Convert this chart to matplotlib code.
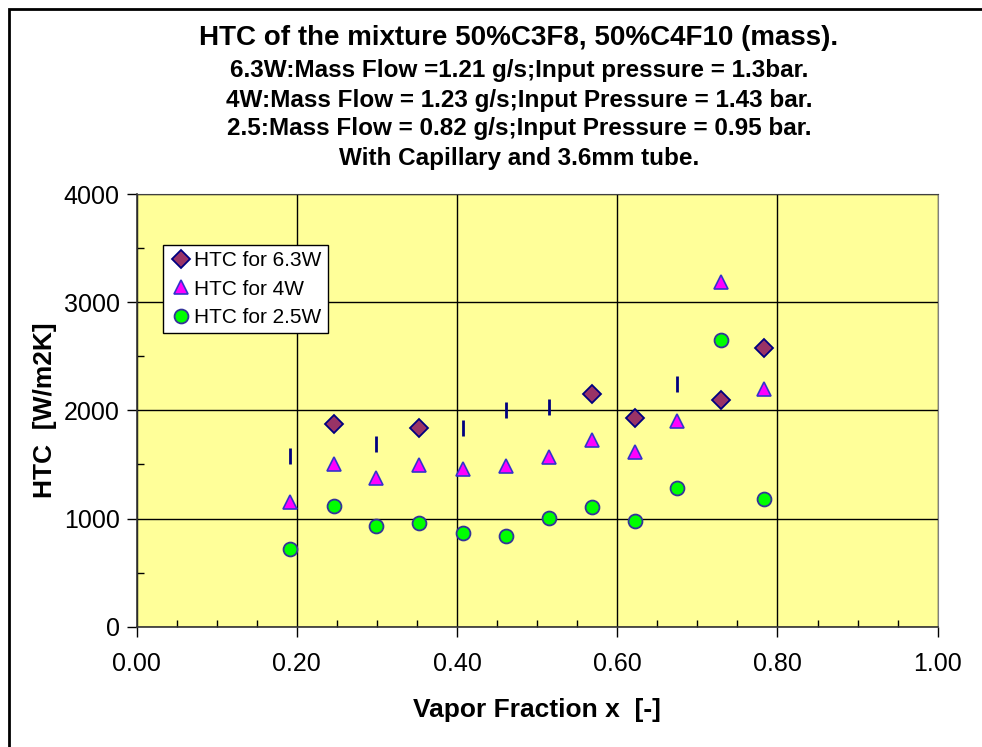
import matplotlib
matplotlib.use('Agg')
import matplotlib.pyplot as plt
from matplotlib.patches import Rectangle
from matplotlib.ticker import MultipleLocator, FormatStrFormatter

plt.rcParams['font.family'] = ['Liberation Sans', 'DejaVu Sans']

# vapor fraction positions of the measurements
x_vals = [0.192, 0.246, 0.299, 0.353, 0.407, 0.461, 0.515, 0.568, 0.622, 0.675, 0.729, 0.783]

# HTC for 6.3W (diamonds)
x_63 = [0.246, 0.353, 0.568, 0.622, 0.729, 0.783]
htc_63 = [1877, 1840, 2148, 1932, 2093, 2577]

# extra 6.3W points drawn as short dashes
x_dash = [0.192, 0.299, 0.407, 0.461, 0.515, 0.675]
htc_dash = [1574, 1685, 1840, 2006, 2031, 2247]

# HTC for 4W (triangles)
htc_4 = [1151, 1506, 1377, 1491, 1454, 1484, 1568, 1722, 1614, 1901, 3188, 2194]

# HTC for 2.5W (circles)
htc_25 = [719, 1120, 929, 960, 870, 840, 1003, 1105, 981, 1284, 2648, 1176]

title_lines = [
    'HTC of the mixture 50%C3F8, 50%C4F10 (mass).',
    '6.3W:Mass Flow =1.21 g/s;Input pressure = 1.3bar.',
    '4W:Mass Flow = 1.23 g/s;Input Pressure = 1.43 bar.',
    '2.5:Mass Flow = 0.82 g/s;Input Pressure = 0.95 bar.',
    'With Capillary and 3.6mm tube.',
]

W, H = 982, 747
fig = plt.figure(figsize=(W / 100, H / 100), dpi=100)
fig.patch.set_facecolor('white')

# outer chart frame (cut at right/bottom edges)
fig.patches.append(Rectangle((9 / W, -0.05), 1.1, 1 - 9 / H + 0.05, transform=fig.transFigure,
                             fill=False, edgecolor='black', linewidth=2))

left, right, top, bottom = 136.5, 937.7, 194, 626.7
ax = fig.add_axes([left / W, (H - bottom) / H, (right - left) / W, (bottom - top) / H])
ax.set_facecolor('#FFFF99')

ax.plot(x_63, htc_63, linestyle='none', marker='D', markersize=9, markerfacecolor='#993366',
        markeredgecolor='#000080', markeredgewidth=1.3, label='HTC for 6.3W', zorder=5)
ax.plot(x_vals, htc_4, linestyle='none', marker='^', markersize=9.5, markerfacecolor='#FF00FF',
        markeredgecolor='#3333CC', markeredgewidth=1.2, label='HTC for 4W', zorder=5)
ax.plot(x_vals, htc_25, linestyle='none', marker='o', markersize=10, markerfacecolor='#00FF00',
        markeredgecolor='#333399', markeredgewidth=1.3, label='HTC for 2.5W', zorder=5)
ax.plot(x_dash, htc_dash, linestyle='none', marker='|', markersize=11, markeredgecolor='#000080',
        markeredgewidth=2, zorder=5)

ax.set_xlim(0, 1)
ax.set_ylim(0, 4000)
ax.xaxis.set_major_locator(MultipleLocator(0.2))
ax.xaxis.set_minor_locator(MultipleLocator(0.05))
ax.yaxis.set_major_locator(MultipleLocator(1000))
ax.yaxis.set_minor_locator(MultipleLocator(500))
ax.xaxis.set_major_formatter(FormatStrFormatter('%.2f'))
ax.grid(True, which='major', color='black', linewidth=1)
ax.set_axisbelow(True)
ax.tick_params(which='major', direction='out', length=7, width=1, labelsize=18)
ax.tick_params(which='minor', direction='in', length=5, width=1)
ax.tick_params(axis='x', which='major', pad=11)
ax.tick_params(axis='y', which='major', pad=5)

for side in ['left', 'bottom']:
    ax.spines[side].set_color('#333333')
    ax.spines[side].set_linewidth(1.2)
ax.spines['top'].set_color('#404040')
ax.spines['right'].set_color('#808080')

ax.set_xlabel('Vapor Fraction x  [-]', fontsize=19, fontweight='bold', labelpad=16)
ax.set_ylabel('HTC  [W/m2K]', fontsize=19, fontweight='bold', labelpad=5)

leg = ax.legend(loc='upper left', bbox_to_anchor=(26.5 / (right - left), 1 - 51 / (bottom - top)),
                fontsize=15, frameon=True, fancybox=False, edgecolor='black', framealpha=1,
                handletextpad=0.1, handlelength=1.1, borderpad=0.3, labelspacing=0.45,
                borderaxespad=0)
leg.get_frame().set_linewidth(1)

title_y = [38, 71, 100, 129, 158]
title_sizes = [20, 17.5, 17.5, 17.5, 17.5]
for line, yy, fs in zip(title_lines, title_y, title_sizes):
    fig.text(519 / W, 1 - yy / H, line, ha='center', va='center', fontsize=fs, fontweight='bold')

fig.savefig('out.png', dpi=100)
